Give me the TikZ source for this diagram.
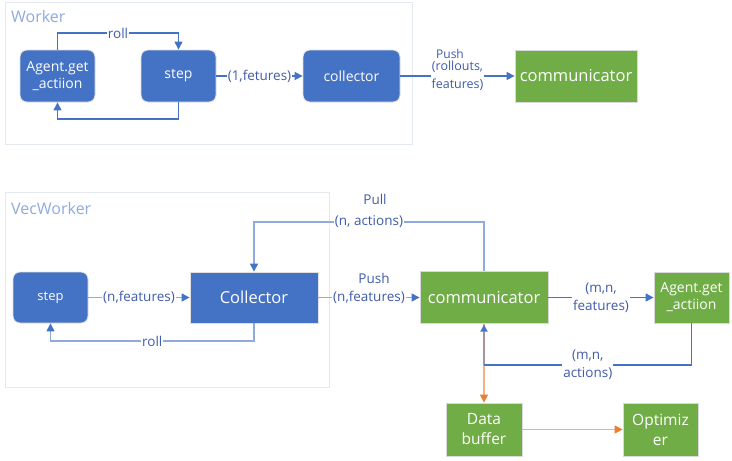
\documentclass[tikz,border=0pt]{standalone}
\usepackage{fontspec}
\setmainfont{Open Sans}
\usetikzlibrary{arrows.meta}
\definecolor{nblue}{HTML}{4472C4}
\definecolor{ngreen}{HTML}{70AD47}
\definecolor{norange}{HTML}{ED7D31}
\definecolor{lorange}{HTML}{F4B183}
\definecolor{lblue}{HTML}{8FAADC}
\definecolor{ttl}{HTML}{8FAADC}
\definecolor{lbl}{HTML}{3F5BAA}
\definecolor{frm}{HTML}{E4E8F0}
\tikzset{
  bluebox/.style={fill=nblue, draw=black!12, line width=0.8pt, text=white, align=center, inner sep=0pt, font=\fontsize{14}{17}\selectfont},
  rbox/.style={bluebox, rounded corners=7pt},
  gbox/.style={fill=ngreen, draw=black!15, line width=0.8pt, text=white, align=center, inner sep=0pt, font=\fontsize{14}{17}\selectfont},
  lab/.style={fill=white, text=lbl, inner sep=1pt, align=center, font=\fontsize{13.5}{18}\selectfont},
  labn/.style={text=lbl, inner sep=1pt, align=center, font=\fontsize{13.5}{18}\selectfont},
  frame/.style={draw=frm, line width=0.8pt},
  title/.style={text=ttl, anchor=west, inner sep=0pt, font=\fontsize{16}{18}\selectfont},
  barr/.style={draw=nblue, line width=1.1pt, -{Triangle[length=8pt,width=8pt,color=nblue]}},
  larr/.style={draw=lblue, line width=1.1pt, -{Triangle[length=8pt,width=8pt,color=nblue]}},
  oarr/.style={draw=lorange, line width=1.2pt, -{Triangle[length=8pt,width=8pt,color=norange]}},
}
\begin{document}
\begin{tikzpicture}[x=1pt,y=-1pt]
\useasboundingbox (0,0) rectangle (732,461);
% frames
\draw[frame] (5,2) rectangle (412,144);
\node[title] (tw) at (11,16) {Worker};
\draw[frame] (5,192) rectangle (329,387);
\node[title] (tv) at (11,208) {VecWorker};

% Worker nodes
\node[rbox, minimum width=75pt, minimum height=52pt] (agentw) at (57.5,76) {Agent.get\\\_actiion};
\node[rbox, minimum width=75pt, minimum height=52pt] (stepw) at (178.5,76) {step};
\node[rbox, minimum width=97pt, minimum height=52pt] (collw) at (351.5,76) {collector};
\node[gbox, minimum width=122pt, minimum height=52pt, font=\fontsize{16.5}{19}\selectfont] (commw) at (576,76) {communicator};

\coordinate (r1) at (57.5,33);
\coordinate (r2) at (178.5,33);
\draw[barr] (agentw.north) -- (r1) -- node[lab,pos=0.5]{roll} (r2) -- (stepw.north);
\coordinate (b1) at (178.5,119);
\coordinate (b2) at (57.5,119);
\draw[barr] (stepw.south) -- (b1) -- (b2) -- (agentw.south);
\draw[barr] (stepw.east) -- node[lab]{(1,fetures)} (collw.west);
\draw[barr] (collw.east) -- node[lab, font=\fontsize{12.5}{18}\selectfont]{(rollouts,\\features)} (commw.west);
\node[labn, font=\fontsize{12}{14}\selectfont] (pushw) at (450,54) {Push};

% VecWorker nodes
\node[rbox, minimum width=75pt, minimum height=51pt, font=\fontsize{13}{16}\selectfont] (stepv) at (50.5,297.5) {step};
\node[bluebox, minimum width=128pt, minimum height=51pt, font=\fontsize{16.5}{19}\selectfont] (collv) at (254,297.5) {Collector};
\node[gbox, minimum width=128pt, minimum height=52pt, font=\fontsize{16.5}{19}\selectfont] (commv) at (484,297.5) {communicator};
\node[gbox, minimum width=75pt, minimum height=51pt] (agentv) at (691.5,297.5) {Agent.get\\\_actiion};
\node[gbox, minimum width=76pt, minimum height=53pt, font=\fontsize{15.5}{20}\selectfont] (datab) at (484,429.5) {Data\\buffer};
\node[gbox, minimum width=75pt, minimum height=53pt, font=\fontsize{15.5}{20}\selectfont] (optim) at (660.5,429.5) {Optimiz\\er};

\draw[larr] (stepv.east) -- node[lab]{(n,features)} (collv.west);
\coordinate (v1) at (254,341);
\coordinate (v2) at (50.5,341);
\draw[larr] (collv.south) -- (v1) -- node[lab]{roll} (v2) -- (stepv.south);
\coordinate (p1) at (484,222);
\coordinate (p2) at (254,222);
\draw[larr] (commv.north) -- (p1) -- node[lab]{(n, actions)} (p2) -- (collv.north);
\node[labn] (pulll) at (375,199) {Pull};
\draw[larr] (collv.east) -- node[lab]{(n,features)} (commv.west);
\node[labn] (pushv) at (374,278) {Push};
\draw[barr] (commv.east) -- node[lab, pos=0.5]{(m,n,\\features)} (agentv.west);

% orange
\draw[oarr] (commv.south) -- (datab.north);
\draw[oarr] (datab.east) -- (optim.west);
\coordinate (a1) at (691.5,365);
\coordinate (a2) at (484,365);
\draw[draw=nblue, line width=1.1pt] (agentv.south) -- (a1) -- node[lab, pos=0.5]{(m,n,\\actions)} (a2);
\draw[draw=nblue, draw opacity=0.45, line width=1.1pt, -{Triangle[length=8pt,width=8pt,color=nblue]}] (a2) -- (commv.south);
\end{tikzpicture}
\end{document}
